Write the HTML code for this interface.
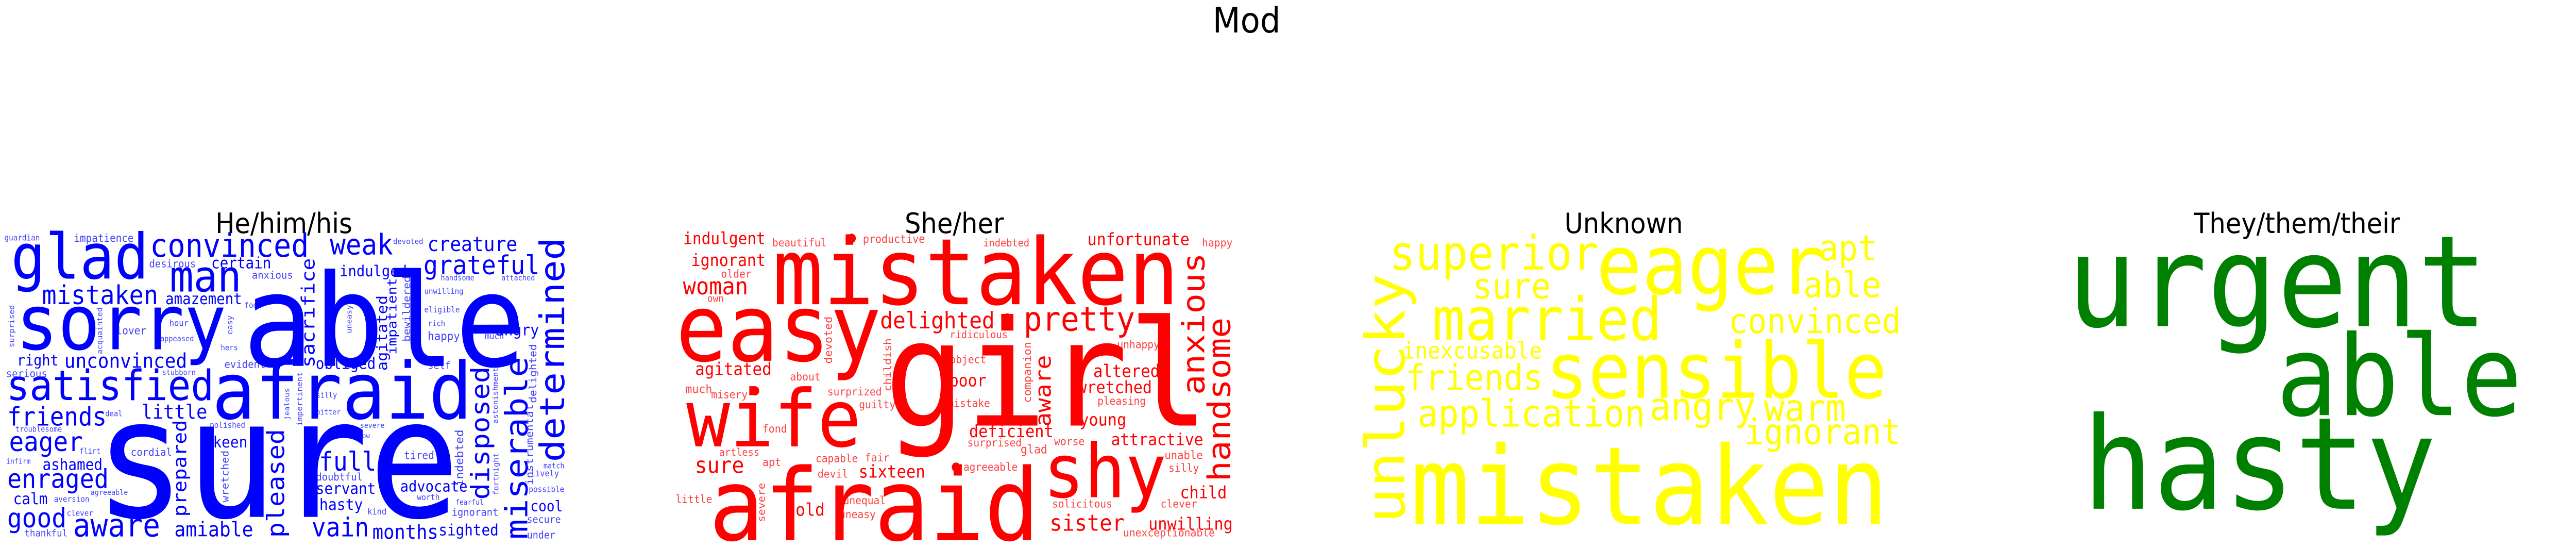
<!DOCTYPE html>
<html><head><meta charset="utf-8"><title>Mod word clouds</title>
<style>
html,body{margin:0;padding:0;background:#fff;width:100vw;height:100vh;overflow:hidden;}
svg{display:block;position:absolute;left:0;top:0;width:100vw;height:100vh;}
.t{font-family:"DejaVu Sans","Liberation Sans",sans-serif;fill:#000;}
.w{font-family:"DejaVu Sans Mono","Liberation Mono",monospace;}
</style></head>
<body>
<svg id="fig" viewBox="0 0 5445 1063" preserveAspectRatio="none" xmlns="http://www.w3.org/2000/svg">
<rect width="5445" height="1063" fill="#fff"/>
<text class="t" x="2635" y="63" font-size="68" text-anchor="middle">Mod</text>
<text class="t" x="600" y="452" font-size="54" text-anchor="middle">He/him/his</text>
<text class="t" x="2017" y="452" font-size="54" text-anchor="middle">She/her</text>
<text class="t" x="3432" y="452" font-size="54" text-anchor="middle">Unknown</text>
<text class="t" x="4855" y="452" font-size="54" text-anchor="middle">They/them/their</text>
<g id="clouds"></g>
</svg>
<script>
// horizontal words: [text, left, right, baseline] in zoom coords
const heH = [
["guardian",15,110,230],["impatience",205,365,235],["glad",40,400,395],["convinced",415,840,300],
["weak",905,1070,290],["devoted",1075,1155,245],["creature",1170,1410,275],["grateful",1160,1470,375],
["desirous",410,535,345],["certain",580,740,350],["man",470,655,450],["indulged",930,1110,385],
["anxious",690,800,395],["handsome",1205,1295,402],["attached",1370,1460,402],["mistaken",120,430,505],
["amazement",455,660,505],["fool",670,715,520],["unwilling",1160,1265,460],["eligible",1160,1255,540],
["sorry",55,610,700],["hour",465,515,600],["lover",320,400,635],["rich",1170,1215,600],
["angry",1355,1470,640],["happy",1170,1255,660],["appeased",440,530,665],["much",1325,1375,657],
["hers",605,650,705],["right",50,160,770],["unconvinced",180,510,780],["evident",615,725,780],
["obliged",865,1025,785],["self",1170,1230,785],["serious",20,130,820],["stubborn",445,535,812],
["satisfied",25,580,920],["afraid",590,1280,1000],["friends",25,290,1030],["deal",290,335,990],
["little",390,565,1000],["silly",865,920,910],["bitter",865,930,982],["polished",575,670,1040],
["severe",985,1050,1040],["troublesome",45,170,1057],["eager",30,225,1140],["keen",585,675,1125],
["low",980,1010,1085],["flirt",220,275,1152],["cordial",360,470,1160],["tired",1105,1185,1175],
["full",875,1025,1225],["infirm",20,85,1195],["ashamed",120,280,1222],["match",1485,1540,1215],
["lively",1450,1525,1250],["enraged",25,295,1300],["doubtful",865,990,1268],["servant",865,1025,1325],
["advocate",1095,1275,1315],["agreeable",250,350,1330],["possible",1445,1540,1318],["aversion",150,245,1360],
["calm",40,130,1370],["worth",1140,1200,1352],["fearful",1245,1320,1372],["hasty",875,990,1395],
["cool",1450,1535,1400],["clever",185,255,1420],["kind",1005,1055,1415],["ignorant",1235,1360,1420],
["secure",1440,1530,1450],["good",25,180,1470],["aware",205,435,1510],["amiable",480,690,1510],
["vain",855,1005,1510],["months",1020,1195,1520],["sighted",1200,1360,1505],["thankful",70,185,1510],
["under",1440,1515,1518],["sure",280,1235,1425],["able",680,1420,772]
];
// vertical words: [text, xLeft, xRight, yTop, yBottom] in zoom coords
const heV = [
["determined",1470,1540,225,1180],["sacrifice",830,860,310,775],["agitated",1035,1065,470,790],
["impatient",1065,1090,395,720],["bewildered",1100,1120,385,665],["uneasy",945,965,510,630],
["easy",625,640,555,635],["surprised",25,45,510,690],["acquainted",270,285,520,720],
["disposed",1290,1350,780,1345],["miserable",1380,1440,740,1515],["delighted",1450,1470,680,930],
["astonishment",1345,1360,780,1020],["instrumental",1435,1455,940,1285],["prepared",480,520,1010,1420],
["pleased",740,790,1050,1510],["wretched",600,625,1140,1360],["impertinent",815,830,800,1030],
["jealous",780,795,870,1005],["indebted",1250,1265,1050,1290],["fortnight",1350,1365,1150,1330]
];
const sheH = [
["mistaken",290,1300,505],["easy",45,545,750],["girl",580,1370,1030],["wife",70,495,1120],
["afraid",130,945,1525],["shy",975,1270,1340],["pretty",920,1195,620],["delighted",555,840,610],
["indulgent",55,260,245],["beautiful",280,415,255],["productive",510,665,240],["indebted",815,930,255],
["unfortunate",1080,1335,250],["happy",1370,1445,255],["ignorant",75,260,340],["older",150,225,390],
["woman",55,215,462],["own",115,155,495],["ridiculous",730,875,652],["unhappy",1155,1260,695],
["object",730,820,760],["agitated",85,275,812],["about",325,400,835],["poor",730,820,860],
["altered",1095,1260,820],["wretched",1055,1240,890],["much",60,125,890],["misery",125,215,912],
["surprized",420,555,900],["pleasing",1105,1225,940],["guilty",500,590,955],["mistake",725,830,950],
["young",1060,1175,1030],["fond",255,315,1060],["deficient",780,990,1080],["surprised",775,910,1120],
["worse",995,1070,1115],["attractive",1140,1370,1115],["glad",910,975,1150],["artless",145,245,1160],
["capable",390,495,1188],["fair",515,575,1185],["unable",1275,1370,1175],["sure",85,205,1235],
["apt",255,300,1205],["agreeable",765,900,1225],["silly",1285,1360,1230],["devil",395,470,1255],
["sixteen",500,665,1255],["child",1315,1430,1345],["little",35,125,1365],["unequal",460,565,1370],
["solicitous",990,1140,1385],["clever",1265,1355,1385],["old",340,410,1420],["uneasy",450,540,1430],
["sister",985,1170,1485],["unwilling",1235,1445,1480],["unexceptionable",1170,1400,1510]
];
const sheV = [
["anxious",1330,1375,290,890],["handsome",1380,1440,570,1265],["aware",950,985,730,1030],
["devoted",405,430,560,760],["childish",560,580,655,880],["companion",920,940,670,930],
["severe",240,260,1280,1445]
];
const sheDots = [[480,220],[875,565],[235,880],[745,1210]];
const unkH = [
["superior",55,315,355],["eager",320,600,460],["apt",600,670,315],["able",580,675,475],
["sure",160,255,480],["married",110,395,660],["convinced",485,700,630],["inexcusable",70,245,740],
["sensible",255,680,910],["friends",75,245,875],["application",90,375,1035],["angry",385,515,1005],
["warm",530,630,1010],["ignorant",505,700,1110],["mistaken",85,680,1455]
];
const unkV = [["unlucky",15,85,385,1440]];
const theyH = [["urgent",920,1440,600],["able",1185,1485,985],["hasty",940,1375,1390]];
const theyV = [];

const panels = [
 {name:"he", color:"#0000ff", H:heH, V:heV, x0:10, sx:1.29, zx0:15},
 {name:"she", color:"#ff0000", H:sheH, V:sheV, x0:1400, sx:1.2, zx0:0, dots:sheDots},
 {name:"unknown", color:"#ffff00", H:unkH, V:unkV, x0:2850, sx:0.601, zx0:0},
 {name:"they", color:"#008000", H:theyH, V:theyV, x0:2850, sx:0.601, zx0:0}
];
const NS = "http://www.w3.org/2000/svg";
const root = document.getElementById("clouds");
const Y = zy => 363.6 + zy/2.23;
const desc = /[gjpqy]/;
panels.forEach(p => {
  const X = zx => p.x0 + (zx - p.zx0)/p.sx;
  const g = document.createElementNS(NS,"g");
  
  
  root.appendChild(g);
  p.H.forEach(w => {
    const [txt, l, r, b] = w;
    const wpx = (r - l)/p.sx;
    const fs = wpx/(txt.length*0.602 - 0.1);
    const t = document.createElementNS(NS,"text");
    
    
    t.setAttribute("class","w");
    t.setAttribute("x", (X(l) - 0.05*fs).toFixed(1));
    t.setAttribute("y", Y(b).toFixed(1));
    t.setAttribute("font-size", fs.toFixed(1));
    t.setAttribute("fill", p.color);
    if (fs < 26) t.setAttribute("fill-opacity","0.75");
    t.textContent = txt;
    g.appendChild(t);
  });
  p.V.forEach(w => {
    const [txt, xl, xr, yt, yb] = w;
    const len = (yb - yt)/2.23;
    const fs = len/(txt.length*0.602 - 0.1);
    const bx = X(xr) - (desc.test(txt) ? 0.2*fs : 0);
    const cy = (Y(yt) + Y(yb))/2;
    const t = document.createElementNS(NS,"text");
    
    
    t.setAttribute("class","w");
    t.setAttribute("x", 0);
    t.setAttribute("y", 0);
    t.setAttribute("text-anchor","middle");
    t.setAttribute("transform","translate(" + bx.toFixed(1) + "," + cy.toFixed(1) + ") rotate(-90)");
    t.setAttribute("font-size", fs.toFixed(1));
    t.setAttribute("fill", p.color);
    if (fs < 26) t.setAttribute("fill-opacity","0.75");
    t.textContent = txt;
    g.appendChild(t);
  });
  (p.dots || []).forEach(d => {
    const c = document.createElementNS(NS,"circle");
    
    
    c.setAttribute("cx", X(d[0]).toFixed(1));
    c.setAttribute("cy", Y(d[1]).toFixed(1));
    c.setAttribute("r", 9);
    c.setAttribute("fill", p.color);
    g.appendChild(c);
  });
});
</script>
</body></html>
